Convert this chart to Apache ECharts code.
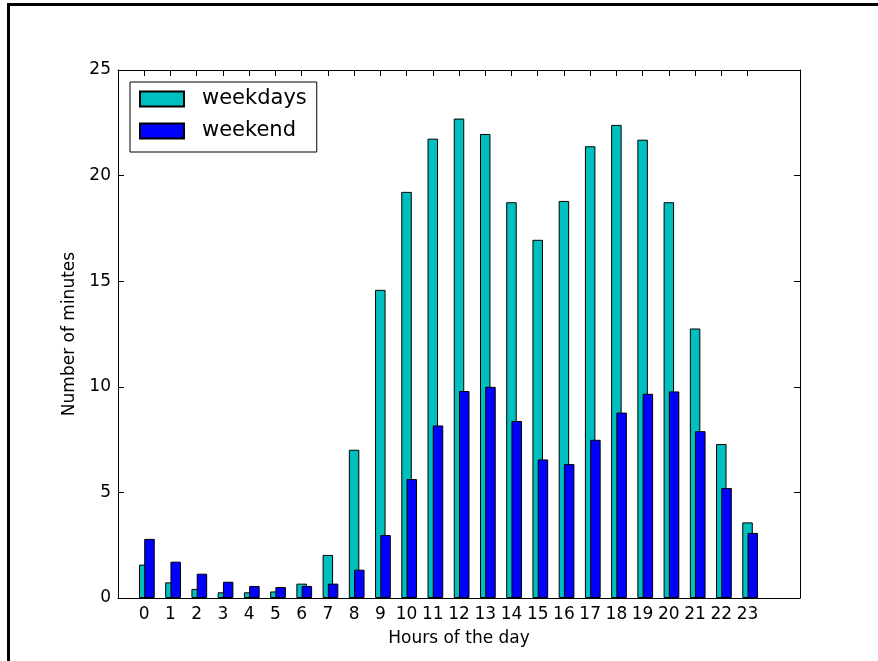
<!DOCTYPE html>
<html>
<head>
<meta charset="utf-8">
<title>Minutes per hour of the day</title>
<script src="https://cdn.jsdelivr.net/npm/echarts@6/dist/echarts.min.js"></script>
<style>
  html, body { margin: 0; padding: 0; background: #fff; }
  #chart { width: 878px; height: 661px; }
</style>
</head>
<body>
<div id="chart"></div>
<script>
// Hours of the day (x categories)
const hours = [0, 1, 2, 3, 4, 5, 6, 7, 8, 9, 10, 11, 12, 13, 14, 15, 16, 17, 18, 19, 20, 21, 22, 23];
// Average number of minutes per hour, weekdays
const weekdays = [1.58, 0.74, 0.43, 0.27, 0.27, 0.31, 0.68, 2.04, 7.02, 14.59, 19.23, 21.75,
                  22.70, 21.97, 18.74, 16.96, 18.80, 21.39, 22.40, 21.70, 18.74, 12.76, 7.29, 3.58];
// Average number of minutes per hour, weekend
const weekend = [2.80, 1.72, 1.15, 0.77, 0.57, 0.52, 0.57, 0.68, 1.34, 2.98, 5.63, 8.17,
                 9.80, 10.00, 8.38, 6.56, 6.34, 7.49, 8.78, 9.67, 9.78, 7.90, 5.21, 3.08];
// Y tick values
const yTicks = [0, 5, 10, 15, 20, 25];

// Bars are 0.4 hour wide; the weekend bar sits 0.2 hour to the right
const BAR_W = 0.4;
const WEEKEND_SHIFT = 0.2;

const FONT = 'DejaVu Sans';
const chart = echarts.init(document.getElementById('chart'), null, { renderer: 'canvas' });

const xBase = {
  type: 'value', min: -1, max: 25, interval: 1,
  splitLine: { show: false },
  axisLine: { show: true, onZero: false, lineStyle: { color: '#000', width: 1 } },
  axisTick: { show: true, inside: true, length: 6, customValues: hours, lineStyle: { color: '#000' } }
};
const yBase = {
  type: 'value', min: yTicks[0], max: yTicks[yTicks.length - 1], interval: 5,
  splitLine: { show: false },
  axisLine: { show: true, onZero: false, lineStyle: { color: '#000', width: 1 } },
  axisTick: { show: true, inside: true, length: 6, lineStyle: { color: '#000' } }
};

// Grid width in pixels, used to turn the 0.4-hour bar width into pixels
const gridLeft = 118, gridRight = 78;
const gridW = 878 - gridLeft - gridRight;
const barPx = BAR_W * gridW / (25 - (-1));

chart.setOption({
  animation: false,
  backgroundColor: '#fff',
  textStyle: { fontFamily: FONT, color: '#000' },
  grid: { left: gridLeft, right: gridRight, top: 70, bottom: 63 },
  graphic: [
    { type: 'polyline', shape: { points: [[8.5, 661], [8.5, 4.5], [878, 4.5]] },
      style: { stroke: '#000', lineWidth: 3, fill: null }, silent: true }
  ],
  legend: {
    left: 130, top: 82,
    orient: 'vertical',
    backgroundColor: '#fff',
    borderColor: '#000', borderWidth: 1, borderRadius: 0,
    padding: [6, 10, 10, 9],
    itemWidth: 44, itemHeight: 15, itemGap: 10,
    icon: 'rect',
    textStyle: { fontFamily: FONT, fontSize: 21, color: '#000', lineHeight: 22, padding: [0, 0, 0, 13] },
    data: ['weekdays', 'weekend']
  },
  xAxis: [
    Object.assign({}, xBase, {
      position: 'bottom',
      name: 'Hours of the day', nameLocation: 'middle', nameGap: 32,
      nameTextStyle: { fontFamily: FONT, fontSize: 17, color: '#000' },
      axisLabel: { show: true, customValues: hours, margin: 8, color: '#000', fontFamily: FONT, fontSize: 17 }
    }),
    Object.assign({}, xBase, { position: 'top', axisLabel: { show: false } })
  ],
  yAxis: [
    Object.assign({}, yBase, {
      position: 'left',
      name: 'Number of minutes', nameLocation: 'middle', nameGap: 34,
      nameTextStyle: { fontFamily: FONT, fontSize: 17, color: '#000' },
      axisLabel: { show: true, margin: 7, color: '#000', fontFamily: FONT, fontSize: 17 }
    }),
    Object.assign({}, yBase, { position: 'right', axisLabel: { show: false } })
  ],
  series: [
    {
      name: 'weekdays', type: 'bar', xAxisIndex: 0, yAxisIndex: 0,
      barWidth: barPx, barGap: '-100%',
      itemStyle: { color: '#00BFBF', borderColor: '#000', borderWidth: 1 },
      data: hours.map((h, i) => [h, weekdays[i]]),
      z: 2
    },
    {
      name: 'weekend', type: 'bar', xAxisIndex: 0, yAxisIndex: 0,
      barWidth: barPx, barGap: '-100%',
      itemStyle: { color: '#0000FF', borderColor: '#000', borderWidth: 1 },
      data: hours.map((h, i) => [h + WEEKEND_SHIFT, weekend[i]]),
      z: 3
    }
  ]
});
</script>
</body>
</html>
